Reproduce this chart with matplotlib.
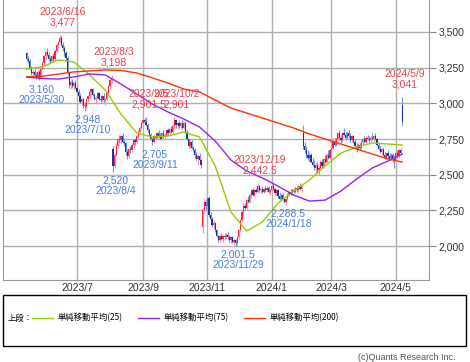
import numpy as np
import pandas as pd
import matplotlib
matplotlib.use('Agg')
import matplotlib.pyplot as plt
from matplotlib import font_manager
from matplotlib.lines import Line2D
from matplotlib.patches import Rectangle

# trading days (TSE), 2023/5/18 - 2024/5/9
jp_holidays = ['2023-07-17', '2023-08-11', '2023-09-18', '2023-10-09', '2023-11-03',
               '2023-11-23', '2024-01-01', '2024-01-02', '2024-01-03', '2024-01-08',
               '2024-02-12', '2024-02-23', '2024-03-20', '2024-04-29', '2024-05-03',
               '2024-05-06']
dates = pd.bdate_range('2023-05-18', '2024-05-09', freq='C', holidays=jp_holidays)

# daily OHLC (one line per month)
opens = [3350, 3310, 3300, 3250, 3210, 3220, 3200, 3180, 3220, 3190,
         3240, 3280, 3330, 3360, 3340, 3310, 3300, 3330, 3310, 3370, 3410, 3430, 3460, 3410, 3390, 3350, 3320, 3210, 3130, 3150, 3120, 3140,
         3110, 3080, 3050, 3010, 3030, 2990, 2980, 3030, 3050, 3080, 3100, 3060, 3030, 3040, 3070, 3030, 3020, 3050, 3020, 3030,
         3070, 3120, 3160, 2680, 2560, 2640, 2700, 2750, 2740, 2770, 2730, 2720, 2660, 2630, 2680, 2670, 2710, 2740, 2730, 2770, 2800, 2830,
         2860, 2880, 2870, 2850, 2810, 2780, 2750, 2730, 2770, 2760, 2790, 2770, 2750, 2790, 2770, 2780, 2810, 2790, 2820, 2800,
         2840, 2880, 2850, 2860, 2840, 2860, 2830, 2860, 2800, 2750, 2700, 2730, 2690, 2670, 2640, 2610, 2630, 2600, 2130, 2250, 2310,
         2280, 2340, 2220, 2190, 2150, 2160, 2110, 2070, 2040, 2070, 2050, 2070, 2060, 2080, 2060, 2040, 2060, 2030, 2040, 2020,
         2060, 2110, 2180, 2240, 2280, 2270, 2320, 2310, 2360, 2390, 2360, 2390, 2380, 2420, 2390, 2400, 2380, 2400, 2390, 2410, 2380,
         2390, 2420, 2400, 2370, 2390, 2350, 2330, 2360, 2330, 2310, 2330, 2360, 2380, 2370, 2390, 2380, 2410, 2390, 2420,
         2400, 2790, 2700, 2670, 2640, 2620, 2640, 2590, 2570, 2550, 2570, 2530, 2550, 2590, 2560, 2610, 2590, 2640, 2620,
         2670, 2690, 2730, 2710, 2750, 2790, 2760, 2740, 2790, 2780, 2760, 2790, 2770, 2740, 2770, 2730, 2700, 2680, 2710, 2690,
         2730, 2750, 2730, 2760, 2750, 2740, 2760, 2750, 2770, 2750, 2710, 2680, 2660, 2680, 2640, 2620, 2650, 2630, 2610, 2640, 2610,
         2600, 2650, 2630, 2670, 2990]
highs = [3360, 3330, 3310, 3260, 3230, 3240, 3220, 3230, 3230, 3250,
         3290, 3340, 3370, 3390, 3360, 3330, 3340, 3350, 3380, 3420, 3440, 3477, 3470, 3430, 3400, 3370, 3330, 3220, 3160, 3170, 3150, 3160,
         3130, 3100, 3070, 3040, 3040, 3010, 3040, 3060, 3090, 3110, 3110, 3070, 3050, 3080, 3080, 3050, 3060, 3070, 3040, 3080,
         3130, 3170, 3198, 2700, 2650, 2720, 2760, 2780, 2780, 2790, 2760, 2730, 2680, 2690, 2700, 2720, 2750, 2760, 2780, 2810, 2840, 2870,
         2890, 2895, 2901.5, 2860, 2830, 2790, 2760, 2780, 2790, 2800, 2810, 2790, 2800, 2810, 2790, 2820, 2830, 2830, 2840, 2850,
         2901, 2890, 2870, 2880, 2870, 2880, 2870, 2870, 2810, 2760, 2740, 2740, 2700, 2690, 2660, 2640, 2650, 2610, 2270, 2330, 2320,
         2350, 2350, 2240, 2200, 2180, 2170, 2120, 2080, 2080, 2090, 2080, 2090, 2090, 2100, 2080, 2070, 2070, 2050, 2050, 2070,
         2120, 2190, 2250, 2300, 2300, 2330, 2350, 2370, 2400, 2410, 2400, 2410, 2442.5, 2430, 2410, 2420, 2410, 2420, 2420, 2420, 2400,
         2430, 2440, 2410, 2400, 2400, 2370, 2370, 2370, 2340, 2340, 2370, 2390, 2400, 2400, 2410, 2420, 2420, 2430, 2440,
         2430, 2850, 2730, 2700, 2670, 2660, 2650, 2620, 2600, 2580, 2590, 2560, 2600, 2610, 2620, 2640, 2650, 2670, 2680,
         2700, 2740, 2760, 2760, 2800, 2810, 2780, 2800, 2830, 2800, 2800, 2810, 2790, 2780, 2780, 2750, 2720, 2720, 2720, 2740,
         2760, 2770, 2770, 2780, 2770, 2770, 2790, 2780, 2790, 2760, 2720, 2700, 2690, 2690, 2660, 2660, 2670, 2650, 2650, 2650, 2640,
         2660, 2670, 2680, 2690, 3041]
lows = [3300, 3280, 3240, 3200, 3180, 3190, 3170, 3170, 3160, 3180,
        3230, 3270, 3310, 3330, 3300, 3280, 3290, 3300, 3300, 3360, 3390, 3420, 3400, 3370, 3330, 3300, 3200, 3110, 3100, 3110, 3090, 3100,
        3070, 3040, 3000, 2990, 2970, 2948, 2970, 3010, 3040, 3060, 3050, 3020, 3000, 3030, 3020, 3010, 3010, 3010, 2990, 3020,
        3060, 3100, 3140, 2520, 2550, 2630, 2690, 2720, 2720, 2720, 2700, 2640, 2610, 2620, 2650, 2660, 2690, 2710, 2720, 2760, 2790, 2820,
        2850, 2860, 2840, 2800, 2770, 2740, 2705, 2720, 2750, 2750, 2760, 2740, 2740, 2760, 2750, 2770, 2780, 2780, 2790, 2790,
        2830, 2830, 2820, 2830, 2830, 2820, 2820, 2790, 2740, 2690, 2690, 2680, 2660, 2620, 2600, 2570, 2590, 2550, 2090, 2230, 2250,
        2270, 2200, 2170, 2130, 2120, 2100, 2060, 2030, 2030, 2040, 2030, 2050, 2050, 2050, 2030, 2020, 2020, 2010, 2001.5, 2010,
        2050, 2100, 2170, 2220, 2250, 2260, 2300, 2300, 2340, 2350, 2350, 2370, 2370, 2380, 2370, 2370, 2370, 2380, 2380, 2370, 2360,
        2380, 2390, 2360, 2360, 2340, 2320, 2320, 2320, 2300, 2288.5, 2320, 2350, 2360, 2360, 2370, 2370, 2380, 2380, 2390,
        2380, 2680, 2650, 2620, 2600, 2590, 2580, 2560, 2530, 2510, 2520, 2500, 2540, 2550, 2550, 2580, 2580, 2610, 2610,
        2640, 2680, 2700, 2700, 2740, 2750, 2720, 2730, 2770, 2740, 2750, 2760, 2730, 2730, 2720, 2690, 2660, 2670, 2670, 2680,
        2710, 2720, 2720, 2740, 2720, 2730, 2740, 2730, 2740, 2700, 2670, 2650, 2640, 2630, 2610, 2610, 2620, 2600, 2600, 2590, 2550,
        2590, 2620, 2620, 2640, 2850]
closes = [3310, 3300, 3250, 3210, 3220, 3200, 3180, 3220, 3190, 3240,
          3280, 3330, 3360, 3340, 3310, 3300, 3330, 3310, 3370, 3410, 3430, 3460, 3410, 3390, 3350, 3320, 3210, 3130, 3150, 3120, 3140, 3110,
          3080, 3050, 3010, 3030, 2990, 2980, 3030, 3050, 3080, 3100, 3060, 3030, 3040, 3070, 3030, 3020, 3050, 3020, 3030, 3070,
          3120, 3160, 3180, 2560, 2640, 2700, 2750, 2740, 2770, 2730, 2720, 2660, 2630, 2680, 2670, 2710, 2740, 2730, 2770, 2800, 2830, 2860,
          2880, 2870, 2850, 2810, 2780, 2750, 2730, 2770, 2760, 2790, 2770, 2750, 2790, 2770, 2780, 2810, 2790, 2820, 2800, 2840,
          2880, 2850, 2860, 2840, 2860, 2830, 2860, 2800, 2750, 2700, 2730, 2690, 2670, 2640, 2610, 2630, 2600, 2570, 2250, 2310, 2280,
          2340, 2220, 2190, 2150, 2160, 2110, 2070, 2040, 2070, 2050, 2070, 2060, 2080, 2060, 2040, 2060, 2030, 2040, 2020, 2060,
          2110, 2180, 2240, 2280, 2270, 2320, 2310, 2360, 2390, 2360, 2390, 2380, 2420, 2390, 2400, 2380, 2400, 2390, 2410, 2380, 2390,
          2420, 2400, 2370, 2390, 2350, 2330, 2360, 2330, 2310, 2330, 2360, 2380, 2370, 2390, 2380, 2410, 2390, 2420, 2400,
          2420, 2700, 2670, 2640, 2620, 2640, 2590, 2570, 2550, 2570, 2530, 2550, 2590, 2560, 2610, 2590, 2640, 2620, 2670,
          2690, 2730, 2710, 2750, 2790, 2760, 2740, 2790, 2780, 2760, 2790, 2770, 2740, 2770, 2730, 2700, 2680, 2710, 2690, 2730,
          2750, 2730, 2760, 2750, 2740, 2760, 2750, 2770, 2750, 2710, 2680, 2660, 2680, 2640, 2620, 2650, 2630, 2610, 2640, 2610, 2600,
          2650, 2630, 2670, 2650, 2870]

# moving averages, sampled every 10 trading days
ma_idx = [0, 10, 20, 30, 40, 50, 60, 70, 80, 90, 100, 110, 120, 130, 140, 150, 160, 170, 180, 190, 200, 210, 220, 230, 239]
ma25 = [3241, 3255, 3304, 3290, 3199, 3093, 2925, 2792, 2764, 2771, 2799, 2764, 2561, 2238, 2105, 2168,
        2301, 2385, 2462, 2561, 2652, 2694, 2722, 2715, 2708]
ma75 = [3185, 3174, 3170, 3185, 3206, 3199, 3135, 3065, 2995, 2939, 2890, 2834, 2736, 2603, 2526, 2477,
        2420, 2357, 2315, 2322, 2385, 2470, 2547, 2596, 2645]
ma200 = [3185, 3190, 3205, 3220, 3227, 3234, 3230, 3213, 3178, 3142, 3100, 3080, 3023, 2967, 2932, 2897,
         2862, 2827, 2785, 2750, 2715, 2680, 2645, 2610, 2589]

# labelled highs / lows: (date, price)
high_marks = [('2023/6/16', 3477), ('2023/8/3', 3198), ('2023/9/5', 2901.5), ('2023/10/2', 2901),
              ('2023/12/19', 2442.5), ('2024/5/9', 3041)]
low_marks = [('2023/5/30', 3160), ('2023/7/10', 2948), ('2023/8/4', 2520), ('2023/9/11', 2705),
             ('2023/11/29', 2001.5), ('2024/1/18', 2288.5)]

yticks = [2000, 2250, 2500, 2750, 3000, 3250, 3500]

names = {f.name for f in font_manager.fontManager.ttflist}
narrow = 'Liberation Sans Narrow' if 'Liberation Sans Narrow' in names else 'Liberation Sans'
jp = 'Noto Sans CJK JP'

up_body, up_wick = '#ff1f4b', '#ff8ea0'
dn_body, dn_wick = '#1a3796', '#7096e6'
hi_col, lo_col = '#e5424f', '#4a7be3'

fig = plt.figure(figsize=(4.7, 3.62), dpi=100)
ax = fig.add_axes([3/470, 1 - 280/362, 426/470, 280/362])

x = np.arange(len(closes))
o = np.array(opens, float)
h = np.array(highs, float)
l = np.array(lows, float)
c = np.array(closes, float)
up = c >= o

ax.vlines(x[up], l[up], h[up], color=up_wick, lw=0.8, zorder=3)
ax.vlines(x[~up], l[~up], h[~up], color=dn_wick, lw=0.8, zorder=3)
ax.bar(x[up], np.maximum(c[up] - o[up], 4), bottom=o[up], width=0.8, color=up_body, lw=0, zorder=4)
ax.bar(x[~up], np.maximum(o[~up] - c[~up], 4), bottom=c[~up], width=0.8, color=dn_body, lw=0, zorder=4)

ax.plot(ma_idx, ma25, color='#9acd00', lw=1.0, zorder=5)
ax.plot(ma_idx, ma75, color='#9a22f0', lw=1.0, zorder=5)
ax.plot(ma_idx, ma200, color='#ff3300', lw=1.0, zorder=5)

date_str = [f'{d.year}/{d.month}/{d.day}' for d in dates]


def fmt(v):
    return f'{v:,.1f}' if v != int(v) else f'{int(v):,}'


for d, p in high_marks:
    i = date_str.index(d)
    ax.annotate(f'{d}\n{fmt(p)}', xy=(i, p), xytext=(1.8, 13), textcoords='offset points',
                ha='center', va='center', color=hi_col, fontsize=7.5, family=narrow,
                linespacing=1.05, zorder=6)
for d, p in low_marks:
    i = date_str.index(d)
    ax.annotate(f'{fmt(p)}\n{d}', xy=(i, p), xytext=(1.8, -10.2), textcoords='offset points',
                ha='center', va='center', color=lo_col, fontsize=7.5, family=narrow,
                linespacing=1.05, zorder=6)

# month ticks at first trading day
month_pos, month_lab = [], []
for m in ['2023-07', '2023-09', '2023-11', '2024-01', '2024-03', '2024-05']:
    i = int(np.argmax(dates.strftime('%Y-%m') == m))
    month_pos.append(i)
    month_lab.append(f'{dates[i].year}/{dates[i].month}')

ax.set_xlim(-15.1, 256.1)
ax.set_ylim(1762, 3724)
ax.set_xticks(month_pos)
ax.set_xticklabels(month_lab)
ax.set_yticks(yticks)
ax.set_yticklabels([f'{v:,}' for v in yticks])
ax.yaxis.tick_right()
ax.tick_params(axis='y', length=5, width=0.8, color='#888888', pad=2, labelsize=7.5, labelcolor='#333333')
ax.tick_params(axis='x', length=0, pad=2, labelsize=7.5, labelcolor='#333333')
for lab in ax.get_xticklabels() + ax.get_yticklabels():
    lab.set_family(narrow)
ax.grid(True, color='#b0b0b0', lw=1.0)
ax.set_axisbelow(True)
ax.spines['top'].set_visible(False)
for s in ['left', 'bottom', 'right']:
    ax.spines[s].set_color('#999999')

# legend box under the chart
fig.patches.append(Rectangle((3/470, 1 - 346/362), 463/470, 51/362, transform=fig.transFigure,
                             fill=False, ec='black', lw=1.0))
ly = 1 - 318/362
fig.text(8/470, ly, '上段：', family=jp, fontsize=6, va='center', ha='left')
for x0, col, txt in [(32, '#9acd00', '単純移動平均(25)'), (138, '#9a22f0', '単純移動平均(75)'),
                     (244, '#ff3300', '単純移動平均(200)')]:
    fig.lines.append(Line2D([x0/470, (x0 + 21)/470], [ly, ly], transform=fig.transFigure, color=col, lw=1.0))
    fig.text((x0 + 26)/470, ly, txt, family=jp, fontsize=6, va='center', ha='left')

fig.text(455/470, 1 - 358/362, '(c)Quants Research Inc.', family=narrow, fontsize=6.5,
         color='#555555', ha='right', va='center')

fig.savefig('out.png', dpi=100)
